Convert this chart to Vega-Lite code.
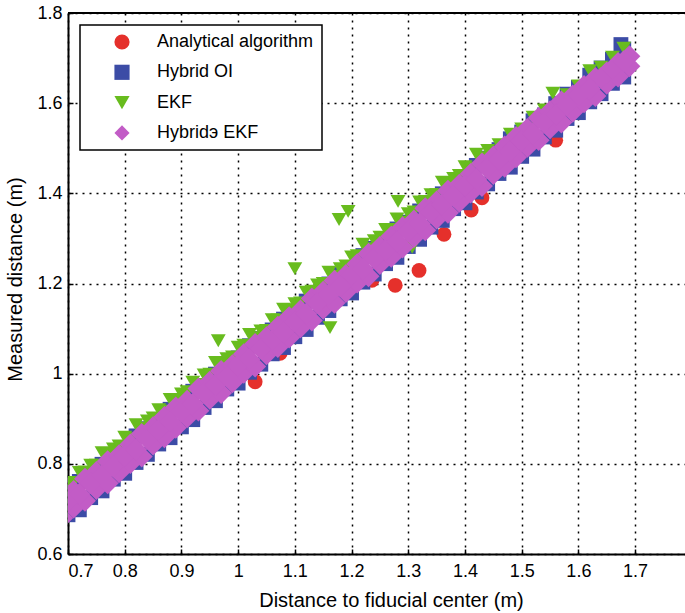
{
"$schema": "https://vega.github.io/schema/vega-lite/v6.json",
"width": 617, "height": 541,
"autosize": {"type": "none"},
"padding": {"left": 68, "top": 13, "right": 0, "bottom": 59},
"background": "white",
"config": {
 "view": {"stroke": null},
 "font": "Liberation Sans",
 "axis": {"domainColor": "black", "domainWidth": 2, "tickColor": "black", "tickWidth": 1.5, "tickSize": -5,
  "grid": true, "gridColor": "black", "gridDash": [2, 5], "gridWidth": 1.5, "gridOpacity": 1,
  "labelFont": "Liberation Sans", "labelFontSize": 18, "labelColor": "black",
  "titleFont": "Liberation Sans", "titleFontSize": 20, "titleFontWeight": "normal", "titleColor": "black"},
 "legend": {"orient": "none", "legendX": 12, "legendY": 12, "strokeColor": "black", "strokeWidth": 1.5, "fillColor": "white",
  "padding": 8, "symbolSize": 230, "symbolOffset": 25, "labelOffset": 26, "labelFont": "Liberation Sans", "labelFontSize": 18,
  "labelColor": "black", "rowPadding": 12.3, "symbolStrokeWidth": 0}
},
"data": {"values": [
{"s":"Analytical algorithm","x":0.72,"y":0.725},
{"s":"Analytical algorithm","x":0.80,"y":0.805},
{"s":"Analytical algorithm","x":0.88,"y":0.885},
{"s":"Analytical algorithm","x":0.96,"y":0.965},
{"s":"Analytical algorithm","x":1.12,"y":1.125},
{"s":"Analytical algorithm","x":1.20,"y":1.205},
{"s":"Analytical algorithm","x":1.48,"y":1.485},
{"s":"Analytical algorithm","x":1.52,"y":1.525},
{"s":"Analytical algorithm","x":1.60,"y":1.605},
{"s":"Analytical algorithm","x":1.66,"y":1.665},
{"s":"Analytical algorithm","x":1.03,"y":0.982},
{"s":"Analytical algorithm","x":1.074,"y":1.045},
{"s":"Analytical algorithm","x":1.236,"y":1.207},
{"s":"Analytical algorithm","x":1.277,"y":1.196},
{"s":"Analytical algorithm","x":1.319,"y":1.229},
{"s":"Analytical algorithm","x":1.363,"y":1.309},
{"s":"Analytical algorithm","x":1.411,"y":1.363},
{"s":"Analytical algorithm","x":1.43,"y":1.390},
{"s":"Analytical algorithm","x":1.56,"y":1.518},
{"s":"Hybrid OI","x":0.70,"y":0.687},{"s":"Hybrid OI","x":0.70,"y":0.736},
{"s":"Hybrid OI","x":0.72,"y":0.698},{"s":"Hybrid OI","x":0.72,"y":0.761},
{"s":"Hybrid OI","x":0.74,"y":0.725},{"s":"Hybrid OI","x":0.74,"y":0.774},
{"s":"Hybrid OI","x":0.76,"y":0.740},{"s":"Hybrid OI","x":0.76,"y":0.799},
{"s":"Hybrid OI","x":0.78,"y":0.766},{"s":"Hybrid OI","x":0.78,"y":0.820},
{"s":"Hybrid OI","x":0.80,"y":0.779},{"s":"Hybrid OI","x":0.80,"y":0.835},
{"s":"Hybrid OI","x":0.82,"y":0.803},{"s":"Hybrid OI","x":0.82,"y":0.862},
{"s":"Hybrid OI","x":0.84,"y":0.821},{"s":"Hybrid OI","x":0.84,"y":0.878},
{"s":"Hybrid OI","x":0.86,"y":0.844},{"s":"Hybrid OI","x":0.86,"y":0.897},
{"s":"Hybrid OI","x":0.88,"y":0.858},{"s":"Hybrid OI","x":0.88,"y":0.921},
{"s":"Hybrid OI","x":0.90,"y":0.882},{"s":"Hybrid OI","x":0.90,"y":0.936},
{"s":"Hybrid OI","x":0.92,"y":0.898},{"s":"Hybrid OI","x":0.92,"y":0.961},
{"s":"Hybrid OI","x":0.94,"y":0.925},{"s":"Hybrid OI","x":0.94,"y":0.974},
{"s":"Hybrid OI","x":0.96,"y":0.940},{"s":"Hybrid OI","x":0.96,"y":0.999},
{"s":"Hybrid OI","x":0.98,"y":0.966},{"s":"Hybrid OI","x":0.98,"y":1.020},
{"s":"Hybrid OI","x":1.00,"y":0.979},{"s":"Hybrid OI","x":1.00,"y":1.035},
{"s":"Hybrid OI","x":1.02,"y":1.003},{"s":"Hybrid OI","x":1.02,"y":1.062},
{"s":"Hybrid OI","x":1.04,"y":1.021},{"s":"Hybrid OI","x":1.04,"y":1.078},
{"s":"Hybrid OI","x":1.06,"y":1.044},{"s":"Hybrid OI","x":1.06,"y":1.097},
{"s":"Hybrid OI","x":1.08,"y":1.058},{"s":"Hybrid OI","x":1.08,"y":1.121},
{"s":"Hybrid OI","x":1.10,"y":1.082},{"s":"Hybrid OI","x":1.10,"y":1.136},
{"s":"Hybrid OI","x":1.12,"y":1.098},{"s":"Hybrid OI","x":1.12,"y":1.161},
{"s":"Hybrid OI","x":1.14,"y":1.125},{"s":"Hybrid OI","x":1.14,"y":1.174},
{"s":"Hybrid OI","x":1.16,"y":1.140},{"s":"Hybrid OI","x":1.16,"y":1.199},
{"s":"Hybrid OI","x":1.18,"y":1.166},{"s":"Hybrid OI","x":1.18,"y":1.220},
{"s":"Hybrid OI","x":1.20,"y":1.179},{"s":"Hybrid OI","x":1.20,"y":1.235},
{"s":"Hybrid OI","x":1.22,"y":1.203},{"s":"Hybrid OI","x":1.22,"y":1.262},
{"s":"Hybrid OI","x":1.24,"y":1.221},{"s":"Hybrid OI","x":1.24,"y":1.278},
{"s":"Hybrid OI","x":1.26,"y":1.244},{"s":"Hybrid OI","x":1.26,"y":1.297},
{"s":"Hybrid OI","x":1.28,"y":1.258},{"s":"Hybrid OI","x":1.28,"y":1.321},
{"s":"Hybrid OI","x":1.30,"y":1.282},{"s":"Hybrid OI","x":1.30,"y":1.336},
{"s":"Hybrid OI","x":1.32,"y":1.298},{"s":"Hybrid OI","x":1.32,"y":1.361},
{"s":"Hybrid OI","x":1.34,"y":1.325},{"s":"Hybrid OI","x":1.34,"y":1.374},
{"s":"Hybrid OI","x":1.36,"y":1.340},{"s":"Hybrid OI","x":1.36,"y":1.399},
{"s":"Hybrid OI","x":1.38,"y":1.366},{"s":"Hybrid OI","x":1.38,"y":1.420},
{"s":"Hybrid OI","x":1.40,"y":1.379},{"s":"Hybrid OI","x":1.40,"y":1.435},
{"s":"Hybrid OI","x":1.42,"y":1.403},{"s":"Hybrid OI","x":1.42,"y":1.462},
{"s":"Hybrid OI","x":1.44,"y":1.421},{"s":"Hybrid OI","x":1.44,"y":1.478},
{"s":"Hybrid OI","x":1.46,"y":1.444},{"s":"Hybrid OI","x":1.46,"y":1.497},
{"s":"Hybrid OI","x":1.48,"y":1.458},{"s":"Hybrid OI","x":1.48,"y":1.521},
{"s":"Hybrid OI","x":1.50,"y":1.482},{"s":"Hybrid OI","x":1.50,"y":1.536},
{"s":"Hybrid OI","x":1.52,"y":1.498},{"s":"Hybrid OI","x":1.52,"y":1.561},
{"s":"Hybrid OI","x":1.54,"y":1.525},{"s":"Hybrid OI","x":1.54,"y":1.574},
{"s":"Hybrid OI","x":1.56,"y":1.540},{"s":"Hybrid OI","x":1.56,"y":1.599},
{"s":"Hybrid OI","x":1.58,"y":1.566},{"s":"Hybrid OI","x":1.58,"y":1.620},
{"s":"Hybrid OI","x":1.60,"y":1.579},{"s":"Hybrid OI","x":1.60,"y":1.635},
{"s":"Hybrid OI","x":1.62,"y":1.603},{"s":"Hybrid OI","x":1.62,"y":1.662},
{"s":"Hybrid OI","x":1.64,"y":1.621},{"s":"Hybrid OI","x":1.64,"y":1.678},
{"s":"Hybrid OI","x":1.66,"y":1.644},{"s":"Hybrid OI","x":1.66,"y":1.697},
{"s":"Hybrid OI","x":1.68,"y":1.658},{"s":"Hybrid OI","x":1.68,"y":1.720},
{"s":"Hybrid OI","x":1.675,"y":1.730},
{"s":"EKF","x":0.70,"y":0.755},
{"s":"EKF","x":0.72,"y":0.781},
{"s":"EKF","x":0.74,"y":0.797},
{"s":"EKF","x":0.76,"y":0.825},
{"s":"EKF","x":0.78,"y":0.833},
{"s":"EKF","x":0.80,"y":0.859},
{"s":"EKF","x":0.82,"y":0.887},
{"s":"EKF","x":0.84,"y":0.895},
{"s":"EKF","x":0.86,"y":0.920},
{"s":"EKF","x":0.88,"y":0.943},
{"s":"EKF","x":0.90,"y":0.955},
{"s":"EKF","x":0.92,"y":0.981},
{"s":"EKF","x":0.94,"y":0.997},
{"s":"EKF","x":0.96,"y":1.025},
{"s":"EKF","x":0.98,"y":1.033},
{"s":"EKF","x":1.00,"y":1.059},
{"s":"EKF","x":1.02,"y":1.087},
{"s":"EKF","x":1.04,"y":1.095},
{"s":"EKF","x":1.06,"y":1.120},
{"s":"EKF","x":1.08,"y":1.143},
{"s":"EKF","x":1.10,"y":1.155},
{"s":"EKF","x":1.12,"y":1.181},
{"s":"EKF","x":1.14,"y":1.197},
{"s":"EKF","x":1.16,"y":1.225},
{"s":"EKF","x":1.18,"y":1.233},
{"s":"EKF","x":1.20,"y":1.259},
{"s":"EKF","x":1.22,"y":1.287},
{"s":"EKF","x":1.24,"y":1.295},
{"s":"EKF","x":1.26,"y":1.320},
{"s":"EKF","x":1.28,"y":1.343},
{"s":"EKF","x":1.30,"y":1.355},
{"s":"EKF","x":1.32,"y":1.381},
{"s":"EKF","x":1.34,"y":1.397},
{"s":"EKF","x":1.36,"y":1.425},
{"s":"EKF","x":1.38,"y":1.433},
{"s":"EKF","x":1.40,"y":1.459},
{"s":"EKF","x":1.42,"y":1.487},
{"s":"EKF","x":1.44,"y":1.495},
{"s":"EKF","x":1.46,"y":1.508},
{"s":"EKF","x":1.48,"y":1.531},
{"s":"EKF","x":1.50,"y":1.543},
{"s":"EKF","x":1.52,"y":1.569},
{"s":"EKF","x":1.54,"y":1.585},
{"s":"EKF","x":1.555,"y":1.622},
{"s":"EKF","x":1.58,"y":1.619},
{"s":"EKF","x":1.60,"y":1.638},
{"s":"EKF","x":1.62,"y":1.672},
{"s":"EKF","x":1.64,"y":1.680},
{"s":"EKF","x":1.66,"y":1.702},
{"s":"EKF","x":1.68,"y":1.722},
{"s":"EKF","x":0.71,"y":0.759},{"s":"EKF","x":0.73,"y":0.782},{"s":"EKF","x":0.75,"y":0.797},
{"s":"EKF","x":0.77,"y":0.823},{"s":"EKF","x":0.79,"y":0.840},{"s":"EKF","x":0.81,"y":0.856},
{"s":"EKF","x":0.83,"y":0.879},{"s":"EKF","x":0.85,"y":0.902},{"s":"EKF","x":0.87,"y":0.917},
{"s":"EKF","x":0.89,"y":0.943},{"s":"EKF","x":0.91,"y":0.960},{"s":"EKF","x":0.93,"y":0.976},
{"s":"EKF","x":0.95,"y":0.999},{"s":"EKF","x":0.97,"y":1.022},{"s":"EKF","x":0.99,"y":1.037},
{"s":"EKF","x":1.01,"y":1.063},{"s":"EKF","x":1.03,"y":1.080},{"s":"EKF","x":1.05,"y":1.096},
{"s":"EKF","x":1.07,"y":1.119},{"s":"EKF","x":1.09,"y":1.142},{"s":"EKF","x":1.11,"y":1.157},
{"s":"EKF","x":1.13,"y":1.183},{"s":"EKF","x":1.15,"y":1.200},{"s":"EKF","x":1.17,"y":1.216},
{"s":"EKF","x":1.19,"y":1.239},{"s":"EKF","x":1.21,"y":1.262},{"s":"EKF","x":1.23,"y":1.277},
{"s":"EKF","x":1.25,"y":1.303},{"s":"EKF","x":1.27,"y":1.320},{"s":"EKF","x":1.29,"y":1.336},
{"s":"EKF","x":1.31,"y":1.359},{"s":"EKF","x":1.33,"y":1.382},{"s":"EKF","x":1.35,"y":1.397},
{"s":"EKF","x":1.37,"y":1.423},{"s":"EKF","x":1.39,"y":1.440},{"s":"EKF","x":1.41,"y":1.456},
{"s":"EKF","x":1.43,"y":1.479},
{"s":"EKF","x":0.965,"y":1.073},
{"s":"EKF","x":1.10,"y":1.233},
{"s":"EKF","x":1.178,"y":1.342},
{"s":"EKF","x":1.194,"y":1.360},
{"s":"EKF","x":1.282,"y":1.382},
{"s":"EKF","x":1.162,"y":1.102},
{"s":"EKF","x":1.307,"y":1.280},
{"s":"Hybridэ EKF","x":0.69,"y":0.680},{"s":"Hybridэ EKF","x":0.69,"y":0.725},
{"s":"Hybridэ EKF","x":0.71,"y":0.703},{"s":"Hybridэ EKF","x":0.71,"y":0.740},
{"s":"Hybridэ EKF","x":0.73,"y":0.718},{"s":"Hybridэ EKF","x":0.73,"y":0.767},
{"s":"Hybridэ EKF","x":0.75,"y":0.744},{"s":"Hybridэ EKF","x":0.75,"y":0.782},
{"s":"Hybridэ EKF","x":0.77,"y":0.757},{"s":"Hybridэ EKF","x":0.77,"y":0.806},
{"s":"Hybridэ EKF","x":0.79,"y":0.781},{"s":"Hybridэ EKF","x":0.79,"y":0.819},
{"s":"Hybridэ EKF","x":0.81,"y":0.802},{"s":"Hybridэ EKF","x":0.81,"y":0.843},
{"s":"Hybridэ EKF","x":0.83,"y":0.816},{"s":"Hybridэ EKF","x":0.83,"y":0.866},
{"s":"Hybridэ EKF","x":0.85,"y":0.843},{"s":"Hybridэ EKF","x":0.85,"y":0.881},
{"s":"Hybridэ EKF","x":0.87,"y":0.859},{"s":"Hybridэ EKF","x":0.87,"y":0.904},
{"s":"Hybridэ EKF","x":0.89,"y":0.880},{"s":"Hybridэ EKF","x":0.89,"y":0.925},
{"s":"Hybridэ EKF","x":0.91,"y":0.903},{"s":"Hybridэ EKF","x":0.91,"y":0.940},
{"s":"Hybridэ EKF","x":0.93,"y":0.918},{"s":"Hybridэ EKF","x":0.93,"y":0.967},
{"s":"Hybridэ EKF","x":0.95,"y":0.944},{"s":"Hybridэ EKF","x":0.95,"y":0.982},
{"s":"Hybridэ EKF","x":0.97,"y":0.957},{"s":"Hybridэ EKF","x":0.97,"y":1.006},
{"s":"Hybridэ EKF","x":0.99,"y":0.981},{"s":"Hybridэ EKF","x":0.99,"y":1.019},
{"s":"Hybridэ EKF","x":1.01,"y":1.002},{"s":"Hybridэ EKF","x":1.01,"y":1.043},
{"s":"Hybridэ EKF","x":1.03,"y":1.016},{"s":"Hybridэ EKF","x":1.03,"y":1.066},
{"s":"Hybridэ EKF","x":1.05,"y":1.043},{"s":"Hybridэ EKF","x":1.05,"y":1.081},
{"s":"Hybridэ EKF","x":1.07,"y":1.059},{"s":"Hybridэ EKF","x":1.07,"y":1.104},
{"s":"Hybridэ EKF","x":1.09,"y":1.080},{"s":"Hybridэ EKF","x":1.09,"y":1.125},
{"s":"Hybridэ EKF","x":1.11,"y":1.103},{"s":"Hybridэ EKF","x":1.11,"y":1.140},
{"s":"Hybridэ EKF","x":1.13,"y":1.118},{"s":"Hybridэ EKF","x":1.13,"y":1.167},
{"s":"Hybridэ EKF","x":1.15,"y":1.144},{"s":"Hybridэ EKF","x":1.15,"y":1.182},
{"s":"Hybridэ EKF","x":1.17,"y":1.157},{"s":"Hybridэ EKF","x":1.17,"y":1.206},
{"s":"Hybridэ EKF","x":1.19,"y":1.181},{"s":"Hybridэ EKF","x":1.19,"y":1.219},
{"s":"Hybridэ EKF","x":1.21,"y":1.202},{"s":"Hybridэ EKF","x":1.21,"y":1.243},
{"s":"Hybridэ EKF","x":1.23,"y":1.216},{"s":"Hybridэ EKF","x":1.23,"y":1.266},
{"s":"Hybridэ EKF","x":1.25,"y":1.243},{"s":"Hybridэ EKF","x":1.25,"y":1.281},
{"s":"Hybridэ EKF","x":1.27,"y":1.259},{"s":"Hybridэ EKF","x":1.27,"y":1.304},
{"s":"Hybridэ EKF","x":1.29,"y":1.280},{"s":"Hybridэ EKF","x":1.29,"y":1.325},
{"s":"Hybridэ EKF","x":1.31,"y":1.303},{"s":"Hybridэ EKF","x":1.31,"y":1.340},
{"s":"Hybridэ EKF","x":1.33,"y":1.318},{"s":"Hybridэ EKF","x":1.33,"y":1.367},
{"s":"Hybridэ EKF","x":1.35,"y":1.344},{"s":"Hybridэ EKF","x":1.35,"y":1.382},
{"s":"Hybridэ EKF","x":1.37,"y":1.357},{"s":"Hybridэ EKF","x":1.37,"y":1.406},
{"s":"Hybridэ EKF","x":1.39,"y":1.381},{"s":"Hybridэ EKF","x":1.39,"y":1.419},
{"s":"Hybridэ EKF","x":1.41,"y":1.402},{"s":"Hybridэ EKF","x":1.41,"y":1.443},
{"s":"Hybridэ EKF","x":1.43,"y":1.416},{"s":"Hybridэ EKF","x":1.43,"y":1.466},
{"s":"Hybridэ EKF","x":1.45,"y":1.443},{"s":"Hybridэ EKF","x":1.45,"y":1.481},
{"s":"Hybridэ EKF","x":1.47,"y":1.459},{"s":"Hybridэ EKF","x":1.47,"y":1.504},
{"s":"Hybridэ EKF","x":1.49,"y":1.480},{"s":"Hybridэ EKF","x":1.49,"y":1.525},
{"s":"Hybridэ EKF","x":1.51,"y":1.503},{"s":"Hybridэ EKF","x":1.51,"y":1.543},
{"s":"Hybridэ EKF","x":1.53,"y":1.518},{"s":"Hybridэ EKF","x":1.53,"y":1.567},
{"s":"Hybridэ EKF","x":1.55,"y":1.544},{"s":"Hybridэ EKF","x":1.55,"y":1.582},
{"s":"Hybridэ EKF","x":1.57,"y":1.557},{"s":"Hybridэ EKF","x":1.57,"y":1.604},
{"s":"Hybridэ EKF","x":1.59,"y":1.581},{"s":"Hybridэ EKF","x":1.59,"y":1.617},
{"s":"Hybridэ EKF","x":1.61,"y":1.602},{"s":"Hybridэ EKF","x":1.61,"y":1.638},
{"s":"Hybridэ EKF","x":1.63,"y":1.616},{"s":"Hybridэ EKF","x":1.63,"y":1.656},
{"s":"Hybridэ EKF","x":1.65,"y":1.643},{"s":"Hybridэ EKF","x":1.65,"y":1.668},
{"s":"Hybridэ EKF","x":1.67,"y":1.659},{"s":"Hybridэ EKF","x":1.67,"y":1.689},
{"s":"Hybridэ EKF","x":1.69,"y":1.682},{"s":"Hybridэ EKF","x":1.69,"y":1.704},
{"s":"Hybridэ EKF","x":0.70,"y":0.716},{"s":"Hybridэ EKF","x":0.72,"y":0.733},
{"s":"Hybridэ EKF","x":0.74,"y":0.757},{"s":"Hybridэ EKF","x":0.76,"y":0.775},
{"s":"Hybridэ EKF","x":0.78,"y":0.794},{"s":"Hybridэ EKF","x":0.80,"y":0.818},
{"s":"Hybridэ EKF","x":0.82,"y":0.832},{"s":"Hybridэ EKF","x":0.84,"y":0.856},
{"s":"Hybridэ EKF","x":0.86,"y":0.875},{"s":"Hybridэ EKF","x":0.88,"y":0.893},
{"s":"Hybridэ EKF","x":0.90,"y":0.916},{"s":"Hybridэ EKF","x":0.92,"y":0.933},
{"s":"Hybridэ EKF","x":0.94,"y":0.957},{"s":"Hybridэ EKF","x":0.96,"y":0.975},
{"s":"Hybridэ EKF","x":0.98,"y":0.994},{"s":"Hybridэ EKF","x":1.00,"y":1.018},
{"s":"Hybridэ EKF","x":1.02,"y":1.032},{"s":"Hybridэ EKF","x":1.04,"y":1.056},
{"s":"Hybridэ EKF","x":1.06,"y":1.075},{"s":"Hybridэ EKF","x":1.08,"y":1.093},
{"s":"Hybridэ EKF","x":1.10,"y":1.116},{"s":"Hybridэ EKF","x":1.12,"y":1.133},
{"s":"Hybridэ EKF","x":1.14,"y":1.157},{"s":"Hybridэ EKF","x":1.16,"y":1.175},
{"s":"Hybridэ EKF","x":1.18,"y":1.194},{"s":"Hybridэ EKF","x":1.20,"y":1.218},
{"s":"Hybridэ EKF","x":1.22,"y":1.232},{"s":"Hybridэ EKF","x":1.24,"y":1.256},
{"s":"Hybridэ EKF","x":1.26,"y":1.275},{"s":"Hybridэ EKF","x":1.28,"y":1.293},
{"s":"Hybridэ EKF","x":1.30,"y":1.316},{"s":"Hybridэ EKF","x":1.32,"y":1.333},
{"s":"Hybridэ EKF","x":1.34,"y":1.357},{"s":"Hybridэ EKF","x":1.36,"y":1.375},
{"s":"Hybridэ EKF","x":1.38,"y":1.394},{"s":"Hybridэ EKF","x":1.40,"y":1.418},
{"s":"Hybridэ EKF","x":1.42,"y":1.432},{"s":"Hybridэ EKF","x":1.44,"y":1.456},
{"s":"Hybridэ EKF","x":1.46,"y":1.475},{"s":"Hybridэ EKF","x":1.48,"y":1.493},
{"s":"Hybridэ EKF","x":1.50,"y":1.516},{"s":"Hybridэ EKF","x":1.52,"y":1.533},
{"s":"Hybridэ EKF","x":1.54,"y":1.557},{"s":"Hybridэ EKF","x":1.56,"y":1.575},
{"s":"Hybridэ EKF","x":1.58,"y":1.594},{"s":"Hybridэ EKF","x":1.60,"y":1.618},
{"s":"Hybridэ EKF","x":1.62,"y":1.632},{"s":"Hybridэ EKF","x":1.64,"y":1.656},
{"s":"Hybridэ EKF","x":1.66,"y":1.675},{"s":"Hybridэ EKF","x":1.68,"y":1.693}
]},
"encoding": {
 "x": {"field": "x", "type": "quantitative",
  "scale": {"domain": [0.7, 1.788], "nice": false, "zero": false},
  "axis": {"values": [0.7, 0.8, 0.9, 1, 1.1, 1.2, 1.3, 1.4, 1.5, 1.6, 1.7], "format": "~g", "labelPadding": 13,
   "title": "Distance to fiducial center (m)", "titleX": 323, "titleY": 46, "titleBaseline": "middle", "titleAnchor": "middle"}},
 "y": {"field": "y", "type": "quantitative",
  "scale": {"domain": [0.6, 1.8], "nice": false, "zero": false},
  "axis": {"values": [0.6, 0.8, 1, 1.2, 1.4, 1.6, 1.8], "format": "~g", "labelPadding": 11,
   "title": "Measured distance (m)", "titleX": -53, "titleY": 266, "titleBaseline": "middle", "titleAngle": -90, "titleAnchor": "middle"}},
 "color": {"field": "s", "type": "nominal",
  "scale": {"domain": ["Analytical algorithm", "Hybrid OI", "EKF", "Hybridэ EKF"], "range": ["#e5302b", "#3c4ca6", "#68bc1e", "#c25cc6"]},
  "legend": {"title": null}},
 "shape": {"field": "s", "type": "nominal",
  "scale": {"domain": ["Analytical algorithm", "Hybrid OI", "EKF", "Hybridэ EKF"], "range": ["circle", "square", "triangle-down", "diamond"]},
  "legend": {"title": null}}
},
"layer": [
 {
  "transform": [{"filter": "datum.s != 'Hybridэ EKF'"}],
  "mark": {"type": "point", "filled": true, "opacity": 1, "clip": true, "strokeWidth": 0, "size": 220}
 },
 {
  "transform": [{"filter": "datum.s == 'Hybridэ EKF'"}],
  "mark": {"type": "point", "filled": true, "opacity": 1, "clip": true, "strokeWidth": 0, "size": 480}
 },
 {
  "mark": {"type": "rule", "color": "black", "strokeWidth": 2, "clip": false},
  "encoding": {"y": {"datum": 1.8}, "x": null, "color": null, "shape": null}
 }
]
}
